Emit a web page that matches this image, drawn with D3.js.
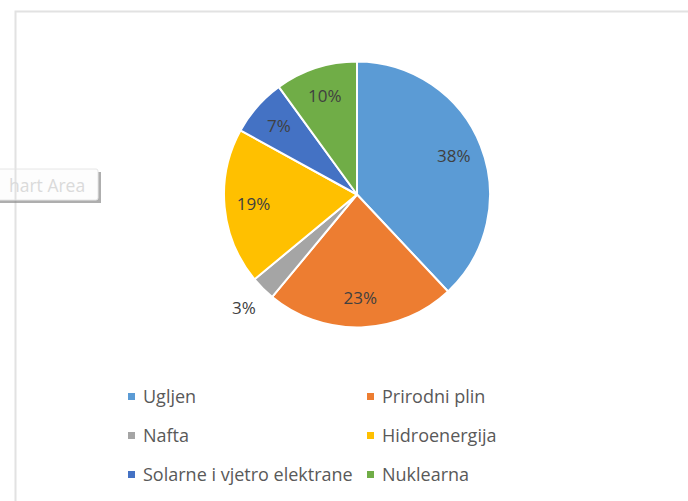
<!DOCTYPE html>
<html>
<head>
<meta charset="utf-8">
<script src="https://cdn.jsdelivr.net/npm/d3@7"></script>
<style>
html,body{margin:0;padding:0;background:#fff;}
svg{display:block;font-family:"Open Sans","Noto Sans",sans-serif;}
</style>
</head>
<body>
<svg id="chart" width="688" height="501"></svg>
<script>
const categories = ["Ugljen","Prirodni plin","Nafta","Hidroenergija","Solarne i vjetro elektrane","Nuklearna"];
const values = [38,23,3,19,7,10];
const colors = ["#5B9BD5","#ED7D31","#A5A5A5","#FFC000","#4472C4","#70AD47"];

const svg = d3.select("#chart");

// chart area border
svg.append("path")
  .attr("d","M15.5,501 L15.5,11.5 L688,11.5")
  .attr("fill","none").attr("stroke","#e2e2e2").attr("stroke-width",2);

const cx = 357, cy = 194.5, r = 133;
const g = svg.append("g").attr("transform",`translate(${cx},${cy})`);
const data = categories.map((c,i)=>({cat:c,value:values[i],color:colors[i]}));
const pie = d3.pie().sort(null).value(d=>d.value);
const arcs = pie(data);
const arc = d3.arc().innerRadius(0).outerRadius(r);
g.selectAll("path.slice").data(arcs).enter().append("path")
  .attr("class","slice")
  .attr("d",arc)
  .attr("fill",d=>d.data.color)
  .attr("stroke","#fff").attr("stroke-width",2).attr("stroke-linejoin","round");

const labelArc = d3.arc().innerRadius(104).outerRadius(104);
const outArc = d3.arc().innerRadius(160).outerRadius(160);
g.selectAll("text.lbl").data(arcs).enter().append("text")
  .attr("class","lbl")
  .attr("transform",d=>{
    const p = (d.data.value < 5 ? outArc : labelArc).centroid(d);
    return `translate(${p[0]},${p[1]})`;
  })
  .attr("text-anchor","middle").attr("dy","0.35em")
  .attr("font-size",17).attr("fill","#404040")
  .text(d=>d.data.value+"%");

// legend
const legX = [128, 367], legY = [397, 436, 475];
const leg = svg.append("g");
data.forEach((d,i)=>{
  const col = i%2, row = Math.floor(i/2);
  const x = legX[col], y = legY[row];
  leg.append("rect").attr("x",x).attr("y",y-4).attr("width",7).attr("height",7).attr("fill",d.color);
  leg.append("text").attr("x",x+15).attr("y",y).attr("dy","0.35em")
    .attr("font-size",18).attr("fill","#595959").text(d.cat);
});

// "Chart Area" tooltip remnant (left part clipped in the reference)
const tip = svg.append("g");
tip.append("rect").attr("x",-10).attr("y",172).attr("width",111).attr("height",31).attr("fill","#8c8c8c").attr("opacity",0.7);
tip.append("rect").attr("x",-10).attr("y",169).attr("width",108).attr("height",31).attr("rx",2)
  .attr("fill","#fdfdfd").attr("stroke","#e6e6e6");
tip.append("line").attr("x1",15.5).attr("x2",15.5).attr("y1",169).attr("y2",200).attr("stroke","#e2e2e2").attr("stroke-width",2);
tip.append("text").attr("x",9).attr("y",192).attr("font-size",17.5).attr("fill","#dadada").text("hart Area");
</script>
</body>
</html>
